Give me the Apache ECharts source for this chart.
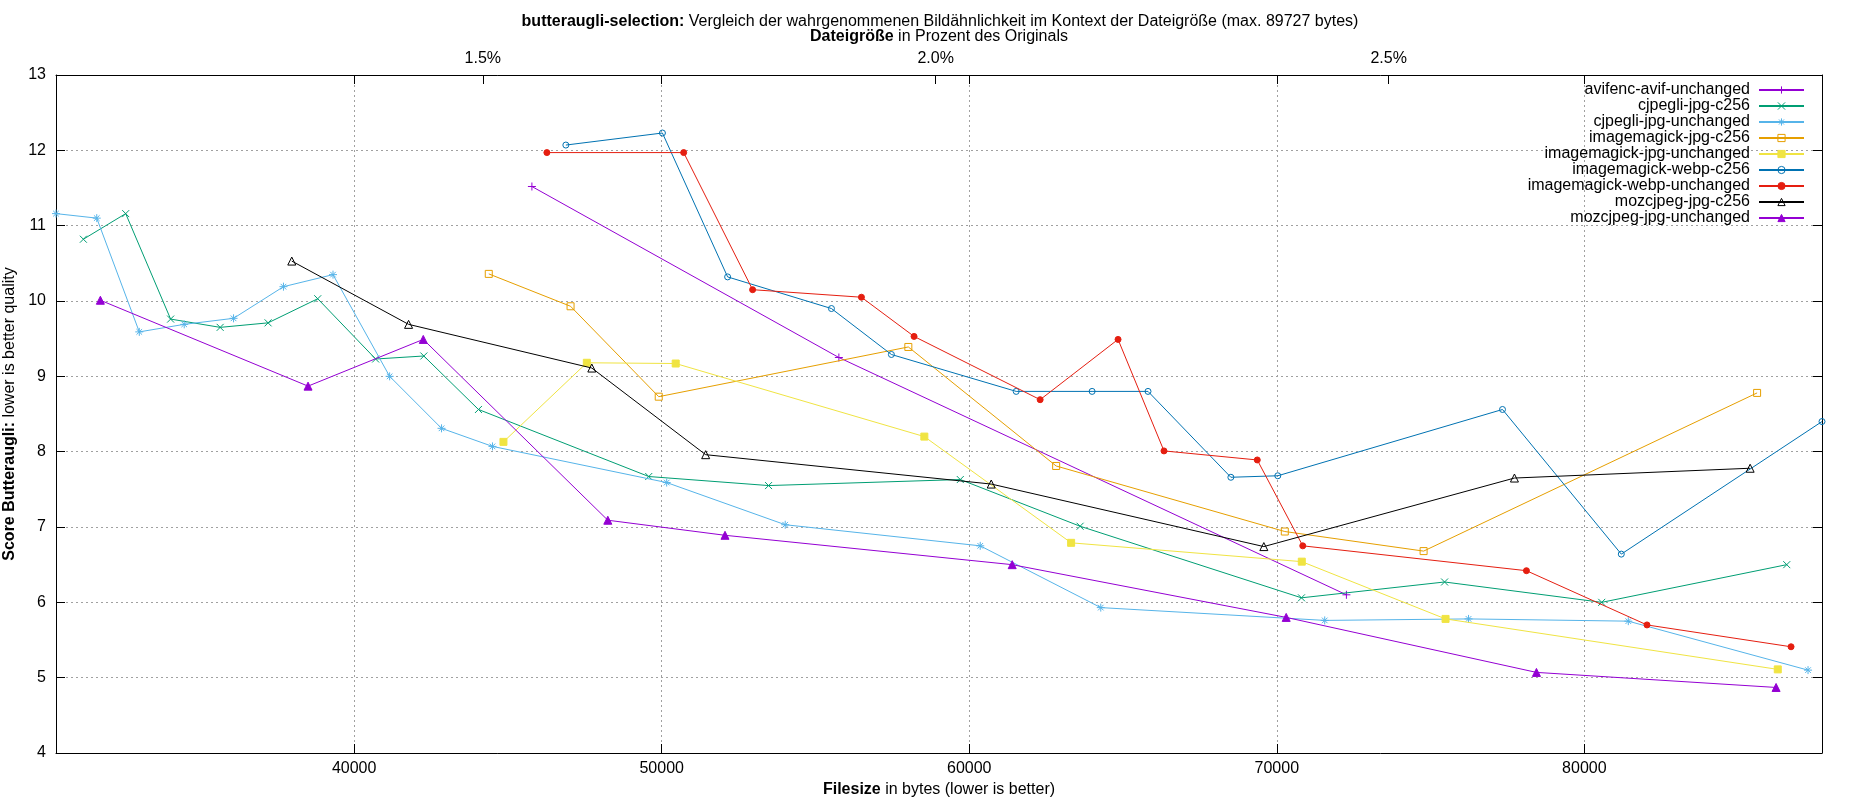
<!DOCTYPE html>
<html>
<head>
<meta charset="utf-8">
<script src="https://cdn.jsdelivr.net/npm/echarts@6/dist/echarts.min.js"></script>
<style>
  html, body { margin: 0; padding: 0; background: #fff; }
  #main { width: 1850px; height: 800px; }
</style>
</head>
<body>
<div id="main"></div>
<script>
// values: [filesize in bytes, butteraugli score]
const avifencAvifUnchanged = [[45779, 11.52], [55760, 9.25], [72263, 6.10]];
const cjpegliJpgC256 = [
  [31195, 10.82], [32571, 11.16], [34032, 9.76], [35643, 9.65], [37201, 9.71], [38815, 10.03],
  [40698, 9.23], [42266, 9.27], [44042, 8.56], [49578, 7.67], [53474, 7.55], [59708, 7.63],
  [63604, 7.01], [70802, 6.06], [75455, 6.27], [80565, 6.00], [86581, 6.50]
];
const cjpegliJpgUnchanged = [
  [30305, 11.16], [31630, 11.10], [33013, 9.59], [34474, 9.69], [36078, 9.77], [37701, 10.19],
  [39312, 10.35], [41153, 9.00], [42841, 8.31], [44497, 8.07], [50162, 7.59], [54016, 7.03],
  [60357, 6.75], [64276, 5.93], [71558, 5.76], [76234, 5.78], [81429, 5.75], [87273, 5.10]
];
const imagemagickJpgC256 = [
  [44377, 10.36], [47036, 9.93], [49903, 8.73], [58019, 9.39], [62825, 7.81], [70260, 6.94],
  [74773, 6.68], [85617, 8.78]
];
const imagemagickJpgUnchanged = [
  [44854, 8.13], [47565, 9.18], [50455, 9.17], [58539, 8.20], [63312, 6.79], [70812, 6.54],
  [75487, 5.78], [86289, 5.11]
];
const imagemagickWebpC256 = [
  [46883, 12.07], [50023, 12.23], [52143, 10.32], [55519, 9.90], [57468, 9.29], [61526, 8.80],
  [63994, 8.80], [65812, 8.80], [68506, 7.66], [70032, 7.68], [77338, 8.56], [81201, 6.64],
  [87727, 8.40]
];
const imagemagickWebpUnchanged = [
  [46266, 11.97], [50714, 11.97], [52955, 10.15], [56494, 10.05], [58205, 9.53], [62305, 8.69],
  [64838, 9.49], [66331, 8.01], [69364, 7.89], [70844, 6.75], [78117, 6.42], [82036, 5.70],
  [86721, 5.41]
];
const mozcjpegJpgC256 = [
  [37971, 10.53], [41769, 9.69], [47727, 9.11], [51429, 7.96], [60714, 7.57], [69578, 6.74],
  [77727, 7.65], [85390, 7.78]
];
const mozcjpegJpgUnchanged = [
  [31747, 10.01], [38500, 8.87], [42247, 9.49], [48247, 7.09], [52058, 6.89], [61396, 6.50],
  [70305, 5.80], [78442, 5.07], [86234, 4.87]
];

const seriesNames = [
  'avifenc-avif-unchanged', 'cjpegli-jpg-c256', 'cjpegli-jpg-unchanged',
  'imagemagick-jpg-c256', 'imagemagick-jpg-unchanged', 'imagemagick-webp-c256',
  'imagemagick-webp-unchanged', 'mozcjpeg-jpg-c256', 'mozcjpeg-jpg-unchanged'
];
const seriesValues = [
  avifencAvifUnchanged, cjpegliJpgC256, cjpegliJpgUnchanged,
  imagemagickJpgC256, imagemagickJpgUnchanged, imagemagickWebpC256,
  imagemagickWebpUnchanged, mozcjpegJpgC256, mozcjpegJpgUnchanged
];

const xTicks = [40000, 50000, 60000, 70000, 80000];
const percentTicks = [1.5, 2.0, 2.5];
const ORIGINAL_SIZE = 2945440; // bytes of the original, for the top percent scale
const Y_MIN = 4, Y_MAX = 13;

const allX = seriesValues.flat().map(p => p[0]);
const X_MIN = Math.min(...allX);
const X_MAX = Math.max(...allX);
const percentBytes = percentTicks.map(p => p * ORIGINAL_SIZE / 100);

// gnuplot-like point types
const FONT = 'Liberation Sans, Arial, sans-serif';
const colors = ['#9400d3', '#009e73', '#56b4e9', '#e69f00', '#f0e442', '#0072b2', '#e51e10', '#000000', '#9400d3'];
const symbols = [
  'path://M0,5L10,5M5,0L5,10',
  'path://M0,0L10,10M0,10L10,0',
  'path://M0,5L10,5M5,0L5,10M1.5,1.5L8.5,8.5M1.5,8.5L8.5,1.5',
  'path://M0,0L10,0L10,10L0,10Z',
  'rect',
  'path://M0,5A5,5,0,1,1,10,5A5,5,0,1,1,0,5Z',
  'circle',
  'path://M5,0L10,10L0,10Z',
  'triangle'
];
const symbolSizes = [8, 7, 8, 7, 7, 6, 6, 8, 8];
const hollow = [false, false, false, true, false, true, false, true, false];

var myChart = echarts.init(document.getElementById('main'), null, { width: 1850, height: 800 });

const gridLine = { show: true, lineStyle: { color: '#a0a0a0', width: 1, type: [2, 3] } };
const blackLine = { show: true, onZero: false, lineStyle: { color: '#000', width: 1 } };

let option = {
  animation: false,
  backgroundColor: '#fff',
  textStyle: { fontFamily: FONT },
  title: {
    text: '{b|butteraugli-selection:} Vergleich der wahrgenommenen Bildähnlichkeit im Kontext der Dateigröße (max. 89727 bytes)',
    left: 940,
    top: 13,
    padding: 0,
    textAlign: 'center',
    textStyle: {
      fontFamily: FONT, fontSize: 16, fontWeight: 'normal', color: '#000', lineHeight: 18,
      rich: { b: { fontFamily: FONT, fontSize: 16, fontWeight: 'bold', color: '#000', lineHeight: 18 } }
    }
  },
  legend: {
    orient: 'vertical',
    right: 45,
    top: 82,
    padding: 0,
    align: 'right',
    itemGap: 0,
    itemWidth: 45,
    itemHeight: 9,
    itemStyle: { borderWidth: 1 },
    textStyle: { fontFamily: FONT, fontSize: 16, color: '#000', lineHeight: 15, padding: [0, 4, 0, 0] },
    data: seriesNames
  },
  grid: { left: 56, right: 28, top: 75, bottom: 47, outerBoundsMode: 'none', containLabel: false },
  xAxis: [
    {
      type: 'value',
      position: 'bottom',
      min: X_MIN,
      max: X_MAX,
      name: '{b|Filesize} in bytes (lower is better)',
      nameLocation: 'middle',
      nameGap: 28,
      nameTextStyle: {
        fontFamily: FONT, fontSize: 16, color: '#000',
        rich: { b: { fontFamily: FONT, fontSize: 16, fontWeight: 'bold', color: '#000' } }
      },
      axisLine: blackLine,
      axisTick: { show: true, inside: true, length: 9, customValues: xTicks, lineStyle: { color: '#000' } },
      axisLabel: {
        show: true, customValues: xTicks, margin: 8, fontSize: 16, color: '#000', fontFamily: FONT,
        formatter: v => String(v)
      },
      splitLine: gridLine
    },
    {
      type: 'value',
      position: 'top',
      min: X_MIN,
      max: X_MAX,
      name: '{b|Dateigröße} in Prozent des Originals',
      nameLocation: 'middle',
      nameGap: 30,
      nameTextStyle: {
        fontFamily: FONT, fontSize: 16, color: '#000',
        rich: { b: { fontFamily: FONT, fontSize: 16, fontWeight: 'bold', color: '#000' } }
      },
      axisLine: blackLine,
      axisTick: { show: true, inside: true, length: 9, customValues: xTicks.concat(percentBytes), lineStyle: { color: '#000' } },
      axisLabel: {
        show: true, customValues: percentBytes, margin: 8, fontSize: 16, color: '#000', fontFamily: FONT,
        formatter: v => (v / ORIGINAL_SIZE * 100).toFixed(1) + '%'
      },
      splitLine: { show: false }
    }
  ],
  yAxis: [
    {
      type: 'value',
      position: 'left',
      min: Y_MIN,
      max: Y_MAX,
      interval: 1,
      name: '{b|Score Butteraugli:} lower is better quality',
      nameLocation: 'middle',
      nameRotate: 90,
      nameGap: 34,
      nameTextStyle: {
        fontFamily: FONT, fontSize: 16, color: '#000',
        rich: { b: { fontFamily: FONT, fontSize: 16, fontWeight: 'bold', color: '#000' } }
      },
      axisLine: blackLine,
      axisTick: { show: true, inside: true, length: 9, lineStyle: { color: '#000' } },
      axisLabel: { show: true, margin: 10, fontSize: 16, color: '#000', fontFamily: FONT },
      splitLine: gridLine
    },
    {
      type: 'value',
      position: 'right',
      min: Y_MIN,
      max: Y_MAX,
      interval: 1,
      axisLine: blackLine,
      axisTick: { show: true, inside: true, length: 9, lineStyle: { color: '#000' } },
      axisLabel: { show: false },
      splitLine: { show: false }
    }
  ],
  series: seriesNames.map((name, i) => ({
    name: name,
    type: 'line',
    xAxisIndex: 0,
    yAxisIndex: 0,
    data: seriesValues[i],
    symbol: symbols[i],
    symbolSize: symbolSizes[i],
    showAllSymbol: true,
    lineStyle: { color: colors[i], width: 1 },
    itemStyle: {
      color: hollow[i] ? 'transparent' : colors[i],
      borderColor: colors[i],
      borderWidth: 1
    },
    emphasis: { disabled: true },
    z: 2 + i
  }))
};

myChart.setOption(option);
</script>
</body>
</html>
